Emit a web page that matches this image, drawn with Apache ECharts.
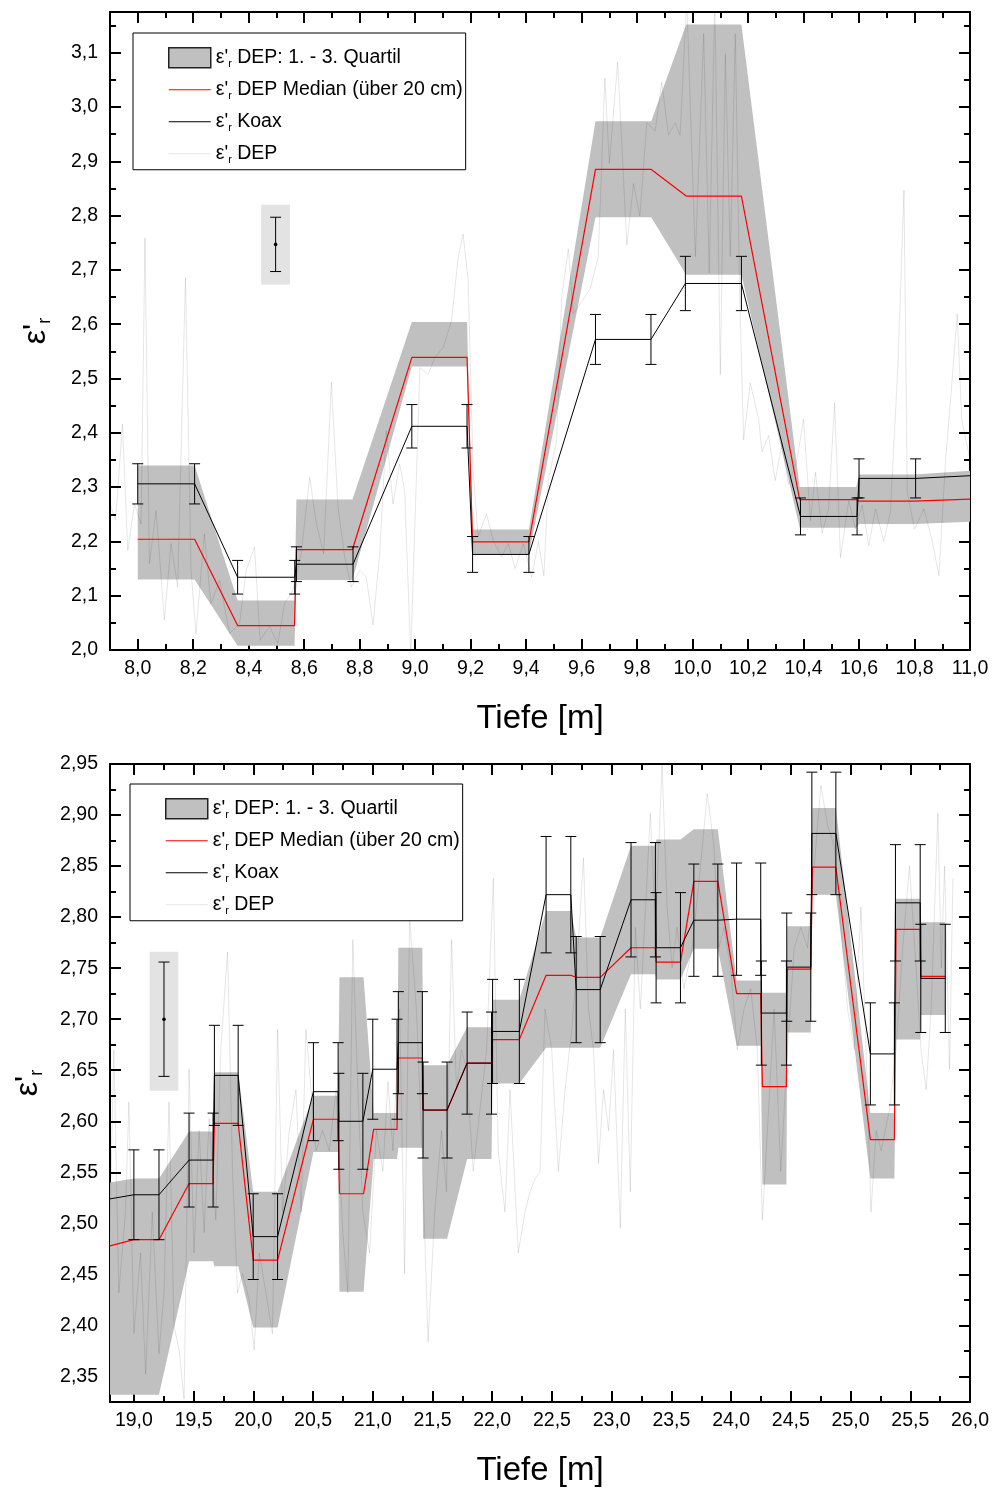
<!DOCTYPE html>
<html>
<head>
    <meta charset="UTF-8">
    <title>Permittivitaet DEP / Koax</title>
    <script src="https://cdn.jsdelivr.net/npm/echarts/dist/echarts.min.js"></script>
    <style>
        html, body { margin: 0; padding: 0; background: #fff; }
        #chart { width: 995px; height: 1488px; }
    </style>
</head>
<body>
<div id="chart"></div>
<script>
    var FONT = 'Liberation Sans, Arial, sans-serif';

    // ---------- top panel: 8 - 11 m ----------
    var topXMajor = [8.0, 8.2, 8.4, 8.6, 8.8, 9.0, 9.2, 9.4, 9.6, 9.8, 10.0, 10.2, 10.4, 10.6, 10.8, 11.0];
    var topXMinor = [8.1, 8.3, 8.5, 8.7, 8.9, 9.1, 9.3, 9.5, 9.7, 9.9, 10.1, 10.3, 10.5, 10.7, 10.9];
    var topYMajor = [2.0, 2.1, 2.2, 2.3, 2.4, 2.5, 2.6, 2.7, 2.8, 2.9, 3.0, 3.1];
    var topYMinor = [2.05, 2.15, 2.25, 2.35, 2.45, 2.55, 2.65, 2.75, 2.85, 2.95, 3.05, 3.15];

    // median + quartile band (20 cm windows)
    var medTopX = [8.0, 8.205, 8.36, 8.565, 8.572, 8.774, 8.988, 9.187, 9.207, 9.41, 9.65, 9.851, 9.977, 10.176, 10.386, 10.59, 10.6, 10.8, 11.0];
    var medTopY = [2.204, 2.204, 2.045, 2.045, 2.185, 2.185, 2.539, 2.539, 2.199, 2.199, 2.885, 2.885, 2.836, 2.836, 2.277, 2.277, 2.274, 2.274, 2.278];
    var q3Top = [2.340, 2.340, 2.091, 2.091, 2.277, 2.277, 2.604, 2.604, 2.222, 2.222, 2.974, 2.974, 3.152, 3.152, 2.300, 2.300, 2.323, 2.323, 2.330];
    var q1Top = [2.130, 2.130, 2.008, 2.008, 2.129, 2.129, 2.522, 2.522, 2.176, 2.176, 2.797, 2.797, 2.691, 2.691, 2.225, 2.225, 2.232, 2.232, 2.236];

    // coax measurements with error
    var koaxTopX = [8.0, 8.205, 8.36, 8.566, 8.572, 8.776, 8.988, 9.187, 9.207, 9.41, 9.65, 9.85, 9.974, 10.176, 10.389, 10.593, 10.6, 10.804, 11.0];
    var koaxTopY = [2.306, 2.306, 2.134, 2.134, 2.158, 2.158, 2.412, 2.412, 2.176, 2.176, 2.572, 2.572, 2.675, 2.675, 2.246, 2.246, 2.316, 2.316, 2.321];
    var koaxTopErr = [0.037, 0.037, 0.031, 0.031, 0.032, 0.032, 0.040, 0.040, 0.033, 0.033, 0.046, 0.046, 0.050, 0.050, 0.034, 0.034, 0.036, 0.036, null];

    // raw DEP trace
    var depTopX = [7.90, 7.92, 7.945, 7.964, 7.988, 8.012, 8.026, 8.042, 8.066, 8.096, 8.120, 8.144, 8.172, 8.192,
        8.210, 8.240, 8.264, 8.295, 8.331, 8.367, 8.391, 8.421, 8.441, 8.475, 8.505, 8.529, 8.559, 8.589, 8.620, 8.644,
        8.670, 8.698, 8.722, 8.746, 8.770, 8.800, 8.824, 8.848, 8.872, 8.896, 8.920, 8.944, 8.962, 8.984, 9.017, 9.047,
        9.071, 9.101, 9.131, 9.155, 9.173, 9.191, 9.209, 9.227, 9.257, 9.281, 9.311, 9.336, 9.360, 9.390, 9.420, 9.444,
        9.464, 9.480, 9.510, 9.528, 9.552, 9.570, 9.630, 9.660, 9.684, 9.700, 9.730, 9.763, 9.787, 9.810, 9.835, 9.865,
        9.889, 9.913, 9.937, 9.955, 9.979, 10.010, 10.040, 10.060, 10.080, 10.100, 10.118, 10.136, 10.154, 10.170, 10.184,
        10.208, 10.238, 10.250, 10.274, 10.298, 10.322, 10.346, 10.376, 10.400, 10.425, 10.443, 10.467, 10.490, 10.512,
        10.533, 10.563, 10.587, 10.611, 10.635, 10.660, 10.689, 10.713, 10.740, 10.762, 10.774, 10.800, 10.834, 10.864,
        10.888, 10.912, 10.936, 10.954, 10.970, 11.000];
    var depTopY = [2.269, 2.239, 2.416, 2.183, 2.269, 2.232, 2.759, 2.159, 2.257, 2.055, 2.196, 2.116, 2.686, 2.147,
        2.030, 2.214, 2.085, 2.128, 2.030, 2.049, 2.147, 2.190, 2.018, 2.043, 2.012, 2.085, 2.110, 2.177, 2.318, 2.232,
        2.177, 2.493, 2.263, 2.171, 2.116, 2.147, 2.134, 2.046, 2.177, 2.404, 2.269, 2.343, 2.294, 1.990, 2.520, 2.508,
        2.539, 2.557, 2.606, 2.723, 2.766, 2.680, 2.331, 2.208, 2.251, 2.202, 2.171, 2.196, 2.150, 2.196, 2.134, 2.200,
        2.137, 2.312, 2.387, 2.649, 2.739, 2.619, 2.664, 2.724, 3.053, 2.896, 3.083, 2.746, 2.859, 2.799, 2.971, 2.956,
        3.046, 2.948, 2.971, 2.948, 3.200, 2.724, 3.135, 2.694, 3.200, 2.507, 3.098, 2.724, 3.135, 2.649, 2.387,
        2.492, 2.425, 2.365, 2.395, 2.312, 2.380, 2.305, 2.350, 2.425, 2.238, 2.327, 2.215, 2.260, 2.455,
        2.170, 2.275, 2.223, 2.267, 2.193, 2.260, 2.200, 2.253, 2.522, 2.847, 2.290, 2.223, 2.260, 2.200,
        2.137, 2.350, 2.500, 2.619, 2.425, 2.350];

    // error bar key: box x0, x1, y0, y1, point x, point y, error
    var keyTop = [8.445, 8.549, 2.673, 2.820, 8.497, 2.747, 0.050];

    // ---------- bottom panel: 18.8 - 26 m ----------
    var botXMajor = [19.0, 19.5, 20.0, 20.5, 21.0, 21.5, 22.0, 22.5, 23.0, 23.5, 24.0, 24.5, 25.0, 25.5, 26.0];
    var botXMinor = [19.25, 19.75, 20.25, 20.75, 21.25, 21.75, 22.25, 22.75, 23.25, 23.75, 24.25, 24.75, 25.25, 25.75];
    var botYMajor = [2.35, 2.40, 2.45, 2.50, 2.55, 2.60, 2.65, 2.70, 2.75, 2.80, 2.85, 2.90, 2.95];
    var botYMinor = [2.375, 2.425, 2.475, 2.525, 2.575, 2.625, 2.675, 2.725, 2.775, 2.825, 2.875, 2.925];

    var medBotX = [18.8, 19.0, 19.21, 19.462, 19.663, 19.674, 19.873, 19.999, 20.203, 20.503, 20.71, 20.721, 20.923,
        21.007, 21.203, 21.214, 21.415, 21.421, 21.622, 21.79, 21.994, 22.003, 22.227, 22.451, 22.658, 22.703, 22.904,
        23.162, 23.366, 23.372, 23.576, 23.688, 23.889, 24.046, 24.248, 24.262, 24.463, 24.47, 24.667, 24.681, 24.877,
        25.166, 25.367, 25.381, 25.583, 25.588, 25.793];
    var medBotY = [2.478, 2.484, 2.484, 2.539, 2.539, 2.598, 2.598, 2.464, 2.464, 2.602, 2.602, 2.529, 2.529,
        2.592, 2.592, 2.662, 2.662, 2.611, 2.611, 2.657, 2.657, 2.680, 2.680, 2.743, 2.743, 2.741, 2.741,
        2.770, 2.770, 2.756, 2.756, 2.835, 2.835, 2.725, 2.725, 2.634, 2.634, 2.749, 2.749, 2.849, 2.849,
        2.582, 2.582, 2.788, 2.788, 2.742, 2.742];
    var q3Bot = [2.540, 2.544, 2.544, 2.590, 2.590, 2.648, 2.648, 2.531, 2.531, 2.625, 2.625, 2.741, 2.741,
        2.608, 2.608, 2.770, 2.770, 2.655, 2.655, 2.692, 2.692, 2.719, 2.719, 2.806, 2.806, 2.780, 2.780,
        2.870, 2.870, 2.876, 2.876, 2.886, 2.886, 2.738, 2.738, 2.726, 2.726, 2.791, 2.791, 2.907, 2.907,
        2.608, 2.608, 2.818, 2.818, 2.795, 2.795];
    var q1Bot = [2.332, 2.332, 2.332, 2.463, 2.463, 2.458, 2.458, 2.398, 2.398, 2.570, 2.570, 2.433, 2.433,
        2.563, 2.563, 2.574, 2.574, 2.485, 2.485, 2.563, 2.563, 2.637, 2.637, 2.672, 2.672, 2.672, 2.672,
        2.744, 2.744, 2.739, 2.739, 2.769, 2.769, 2.674, 2.674, 2.538, 2.538, 2.687, 2.687, 2.822, 2.822,
        2.544, 2.544, 2.680, 2.680, 2.704, 2.704];

    var koaxBotX = [18.8, 19.0, 19.21, 19.462, 19.663, 19.674, 19.873, 19.999, 20.203, 20.503, 20.71, 20.716, 20.917,
        21.0, 21.203, 21.214, 21.415, 21.421, 21.622, 21.79, 21.994, 22.003, 22.227, 22.451, 22.658, 22.703, 22.904,
        23.162, 23.366, 23.372, 23.576, 23.688, 23.889, 24.046, 24.248, 24.253, 24.463, 24.466, 24.667, 24.676, 24.877,
        25.166, 25.367, 25.376, 25.583, 25.588, 25.793];
    var koaxBotY = [2.524, 2.528, 2.528, 2.562, 2.562, 2.645, 2.645, 2.487, 2.487, 2.629, 2.629, 2.600, 2.600,
        2.651, 2.651, 2.677, 2.677, 2.611, 2.611, 2.657, 2.657, 2.688, 2.688, 2.822, 2.822, 2.729, 2.729,
        2.817, 2.817, 2.770, 2.770, 2.797, 2.797, 2.798, 2.798, 2.706, 2.706, 2.751, 2.751, 2.882, 2.882,
        2.666, 2.666, 2.814, 2.814, 2.740, 2.740];
    var koaxBotErr = [null, 0.044, 0.044, 0.046, 0.046, 0.049, 0.049, 0.042, 0.042, 0.048, 0.048, 0.047, 0.047,
        0.049, 0.049, 0.050, 0.050, 0.047, 0.047, 0.050, 0.050, 0.051, 0.051, 0.057, 0.057, 0.052, 0.052,
        0.056, 0.056, 0.054, 0.054, 0.055, 0.055, 0.055, 0.055, 0.051, 0.051, 0.053, 0.053, 0.060, 0.060,
        0.050, 0.050, 0.057, 0.057, 0.053, 0.053];

    var depBotX = [18.79, 18.832, 18.874, 18.93, 18.958, 19.0, 19.056, 19.098, 19.154, 19.21,
        19.252, 19.294, 19.336, 19.378, 19.42, 19.462, 19.503, 19.546, 19.588, 19.63,
        19.686, 19.727, 19.784, 19.826, 19.868, 19.91, 19.966, 20.007, 20.05, 20.105,
        20.16, 20.203, 20.245, 20.301, 20.357, 20.40, 20.44, 20.483, 20.525, 20.58,
        20.637, 20.693, 20.749, 20.791, 20.833, 20.875, 20.917, 20.973, 21.03, 21.085,
        21.127, 21.169, 21.225, 21.267, 21.309, 21.365, 21.407, 21.463, 21.519, 21.575,
        21.617, 21.659, 21.701, 21.743, 21.785, 21.841, 21.897, 21.953, 22.009, 22.05,
        22.107, 22.149, 22.218, 22.274, 22.317, 22.358, 22.40, 22.442, 22.498, 22.554,
        22.61, 22.666, 22.708, 22.764, 22.806, 22.848, 22.89, 22.932, 22.974, 23.016,
        23.072, 23.114, 23.156, 23.198, 23.24, 23.324, 23.366, 23.422, 23.464, 23.506,
        23.548, 23.604, 23.674, 23.744, 23.80, 23.856, 23.898, 23.94, 23.996, 24.052,
        24.108, 24.164, 24.22, 24.262, 24.304, 24.36, 24.416, 24.472, 24.528, 24.583,
        24.64, 24.696, 24.752, 24.808, 24.863, 24.92, 24.975, 25.031, 25.087, 25.13,
        25.171, 25.214, 25.256, 25.325, 25.381, 25.437, 25.493, 25.549, 25.59, 25.633,
        25.675, 25.731, 25.76, 25.787, 25.829, 25.857];
    var depBotY = [2.451, 2.670, 2.432, 2.511, 2.619, 2.392, 2.471, 2.352, 2.511, 2.372,
        2.432, 2.619, 2.400, 2.376, 2.328, 2.651, 2.471, 2.591, 2.491, 2.603,
        2.503, 2.670, 2.766, 2.551, 2.432, 2.451, 2.424, 2.376, 2.471, 2.432,
        2.392, 2.690, 2.511, 2.591, 2.631, 2.511, 2.690, 2.631, 2.571, 2.591,
        2.571, 2.631, 2.491, 2.432, 2.778, 2.631, 2.511, 2.471, 2.591, 2.551,
        2.639, 2.571, 2.710, 2.451, 2.798, 2.710, 2.591, 2.384, 2.511, 2.591,
        2.531, 2.778, 2.631, 2.670, 2.651, 2.551, 2.611, 2.670, 2.838, 2.571,
        2.511, 2.631, 2.471, 2.511, 2.531, 2.543, 2.551, 2.710, 2.670, 2.551,
        2.631, 2.690, 2.750, 2.858, 2.710, 2.670, 2.559, 2.631, 2.591, 2.670,
        2.495, 2.710, 2.531, 2.790, 2.710, 2.902, 2.790, 2.950, 2.810, 2.750,
        2.790, 2.730, 2.770, 2.850, 2.921, 2.870, 2.770, 2.790, 2.750, 2.670,
        2.710, 2.730, 2.670, 2.503, 2.591, 2.710, 2.551, 2.670, 2.770, 2.790,
        2.770, 2.850, 2.929, 2.890, 2.870, 2.790, 2.710, 2.670, 2.810, 2.670,
        2.511, 2.591, 2.571, 2.611, 2.670, 2.770, 2.850, 2.750, 2.670, 2.631,
        2.710, 2.902, 2.750, 2.850, 2.651, 2.838];

    var keyBot = [19.132, 19.372, 2.630, 2.766, 19.252, 2.700, 0.056];

    // ---------- helpers ----------
    var legendText = {
        'Q': "{t|ε'}{s|r}{t| DEP: 1. - 3. Quartil}",
        'M': "{t|ε'}{s|r}{t| DEP Median (über 20 cm)}",
        'K': "{t|ε'}{s|r}{t| Koax}",
        'D': "{t|ε'}{s|r}{t| DEP}"
    };

    function zip(xs, ys) {
        var out = [];
        for (var i = 0; i < Math.min(xs.length, ys.length); i++) out.push([xs[i], ys[i]]);
        return out;
    }

    function errData(xs, ys, es) {
        var out = [];
        for (var i = 0; i < xs.length; i++) {
            if (es[i] != null) out.push([xs[i], ys[i], es[i]]);
        }
        return out;
    }

    function fmt(d) {
        return function (v) { return v.toFixed(d).replace('.', ','); };
    }

    function bandRender(xs, hi, lo) {
        return function (params, api) {
            var pts = [];
            for (var i = 0; i < xs.length; i++) pts.push(api.coord([xs[i], hi[i]]));
            for (var j = xs.length - 1; j >= 0; j--) pts.push(api.coord([xs[j], lo[j]]));
            return {type: 'polygon', shape: {points: pts}, style: {fill: '#c0c0c0'}};
        };
    }

    function bar(a, b, w) {
        var s = function () { return {stroke: '#000', lineWidth: 1}; };
        return [
            {type: 'line', shape: {x1: a[0], y1: a[1], x2: b[0], y2: b[1]}, style: s()},
            {type: 'line', shape: {x1: a[0] - w, y1: a[1], x2: a[0] + w, y2: a[1]}, style: s()},
            {type: 'line', shape: {x1: b[0] - w, y1: b[1], x2: b[0] + w, y2: b[1]}, style: s()}
        ];
    }

    function errRender(params, api) {
        var x = api.value(0), y = api.value(1), e = api.value(2);
        return {type: 'group', children: bar(api.coord([x, y + e]), api.coord([x, y - e]), 5.5)};
    }

    function keyRender(params, api) {
        var p0 = api.coord([api.value(0), api.value(3)]);
        var p1 = api.coord([api.value(1), api.value(2)]);
        var px = api.value(4), py = api.value(5), e = api.value(6);
        var c = api.coord([px, py]);
        var kids = [{type: 'rect', shape: {x: p0[0], y: p0[1], width: p1[0] - p0[0], height: p1[1] - p0[1]},
            style: {fill: '#e3e3e3'}}];
        kids = kids.concat(bar(api.coord([px, py + e]), api.coord([px, py - e]), 5.5));
        kids.push({type: 'circle', shape: {cx: c[0], cy: c[1], r: 1.8}, style: {fill: '#000'}});
        return {type: 'group', children: kids};
    }

    function lineStyle(show) {
        return {show: show, onZero: false, lineStyle: {color: '#000', width: 2}};
    }

    function tick(values, len) {
        return {show: true, inside: true, length: len, customValues: values, lineStyle: {color: '#000', width: 2}};
    }

    function makeAxes(dim, g, min, max, major, minor, digits, nameGap) {
        var sides = dim === 'x' ? ['bottom', 'top'] : ['left', 'right'];
        var base = {type: 'value', gridIndex: g, min: min, max: max, splitLine: {show: false}};
        var main = Object.assign({}, base, {
            position: sides[0], axisLine: lineStyle(true), axisTick: tick(major, 11),
            axisLabel: {show: true, customValues: major, formatter: fmt(digits), color: '#000',
                fontFamily: FONT, fontSize: 19.5, margin: dim === 'x' ? 9 : 12},
            nameLocation: 'middle', nameGap: nameGap
        });
        if (dim === 'x') {
            main.name = 'Tiefe [m]';
            main.nameTextStyle = {fontFamily: FONT, fontSize: 33, color: '#000'};
        } else {
            main.name = "{e|ε'}{s|r}";
            main.nameRotate = 90;
            main.nameTextStyle = {
                color: '#000', fontFamily: FONT,
                rich: {
                    e: {fontFamily: FONT, fontSize: 32, color: '#000', lineHeight: 36},
                    s: {fontFamily: FONT, fontSize: 18, color: '#000', lineHeight: 12, verticalAlign: 'bottom'}
                }
            };
        }
        return [
            main,
            Object.assign({}, base, {position: sides[0], axisLine: lineStyle(false), axisTick: tick(minor, 6), axisLabel: {show: false}}),
            Object.assign({}, base, {position: sides[1], axisLine: lineStyle(true), axisTick: tick(major, 11), axisLabel: {show: false}}),
            Object.assign({}, base, {position: sides[1], axisLine: lineStyle(false), axisTick: tick(minor, 6), axisLabel: {show: false}})
        ];
    }

    function legendFor(left, top) {
        return {
            left: left, top: top, orient: 'vertical', selectedMode: false,
            itemWidth: 42, itemHeight: 20, itemGap: 10, padding: [14, 3, 4, 35],
            borderColor: '#000', borderWidth: 1, backgroundColor: '#fff',
            textStyle: {
                color: '#000', fontFamily: FONT, fontSize: 19.5,
                rich: {
                    t: {fontFamily: FONT, fontSize: 19.5, color: '#000', lineHeight: 24},
                    s: {fontFamily: FONT, fontSize: 11, color: '#000', lineHeight: 8, verticalAlign: 'bottom'}
                }
            },
            formatter: function (name) { return legendText[name]; },
            data: [
                {name: 'Q', icon: 'rect', itemStyle: {color: '#c0c0c0', borderColor: '#222', borderWidth: 1.5}},
                {name: 'M', icon: 'path://M0,0H42V1.2H0Z', itemStyle: {color: '#ff0000', borderWidth: 0}},
                {name: 'K', icon: 'path://M0,0H42V1.2H0Z', itemStyle: {color: '#000', borderWidth: 0}},
                {name: 'D', icon: 'path://M0,0H42V1.2H0Z', itemStyle: {color: '#e6e6e6', borderWidth: 0}}
            ]
        };
    }

    function panelSeries(ax, medX, medY, q3, q1, kX, kY, kE, dX, dY, key) {
        return [
            {name: 'Q', type: 'custom', xAxisIndex: ax, yAxisIndex: ax, clip: true, z: 1,
                itemStyle: {color: '#c0c0c0'}, renderItem: bandRender(medX, q3, q1), data: [[medX[0], q3[0]]]},
            {name: 'key', type: 'custom', xAxisIndex: ax, yAxisIndex: ax, z: 1, renderItem: keyRender, data: [key]},
            {name: 'D', type: 'line', xAxisIndex: ax, yAxisIndex: ax, z: 2, symbol: 'none', clip: true,
                lineStyle: {color: 'rgba(0,0,0,0.10)', width: 1}, itemStyle: {color: '#e6e6e6'}, data: zip(dX, dY)},
            {name: 'M', type: 'line', xAxisIndex: ax, yAxisIndex: ax, z: 3, symbol: 'none',
                lineStyle: {color: '#ff0000', width: 1.2}, itemStyle: {color: '#ff0000'}, data: zip(medX, medY)},
            {name: 'K', type: 'line', xAxisIndex: ax, yAxisIndex: ax, z: 4, symbol: 'none',
                lineStyle: {color: '#000', width: 1}, itemStyle: {color: '#000'}, data: zip(kX, kY)},
            {name: 'err', type: 'custom', xAxisIndex: ax, yAxisIndex: ax, z: 5, clip: true,
                renderItem: errRender, data: errData(kX, kY, kE)}
        ];
    }

    var chart = echarts.init(document.getElementById('chart'), null, {renderer: 'canvas'});
    chart.setOption({
        animation: false,
        backgroundColor: '#fff',
        grid: [
            {left: 110, top: 12, width: 860, height: 638, outerBoundsMode: 'none'},
            {left: 110, top: 764, width: 860, height: 638, outerBoundsMode: 'none'}
        ],
        xAxis: makeAxes('x', 0, 7.9, 11.0, topXMajor, topXMinor, 1, 52)
            .concat(makeAxes('x', 1, 18.8, 26.0, botXMajor, botXMinor, 1, 52)),
        yAxis: makeAxes('y', 0, 2.0, 3.175, topYMajor, topYMinor, 1, 56)
            .concat(makeAxes('y', 1, 2.325, 2.95, botYMajor, botYMinor, 2, 64)),
        legend: [legendFor(133, 33), legendFor(130, 784)],
        series: panelSeries(0, medTopX, medTopY, q3Top, q1Top, koaxTopX, koaxTopY, koaxTopErr, depTopX, depTopY, keyTop)
            .concat(panelSeries(4, medBotX, medBotY, q3Bot, q1Bot, koaxBotX, koaxBotY, koaxBotErr, depBotX, depBotY, keyBot))
    });
</script>
</body>
</html>
